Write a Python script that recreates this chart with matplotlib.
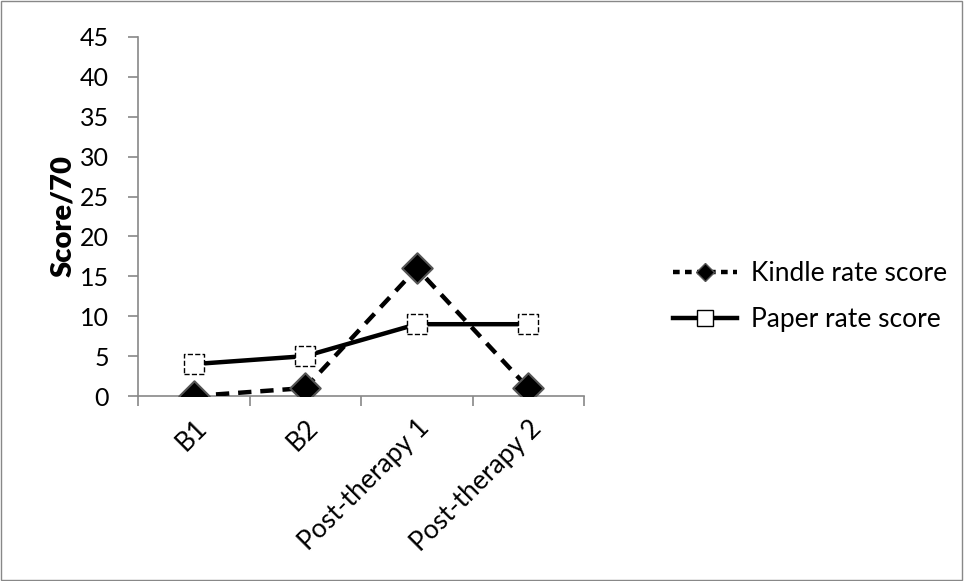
# Kindle vs paper rate scores
import matplotlib.pyplot as plt
from matplotlib.lines import Line2D
from matplotlib.patches import Rectangle

# data
sessions = ['B1', 'B2', 'Post-therapy 1', 'Post-therapy 2']
kindle = [0, 1, 16, 1]
paper = [4, 5, 9, 9]
yticks = [0, 5, 10, 15, 20, 25, 30, 35, 40, 45]

plt.rcParams['font.family'] = ['Lato', 'DejaVu Sans']

fig = plt.figure(figsize=(9.64, 5.81), dpi=100)
ax = fig.add_axes([0.1432, 0.3184, 0.4626, 0.618])

x = list(range(len(sessions)))

# kindle: dashed line, black diamonds
ax.plot(x, kindle, color='black', lw=3.2, ls=(0, (3, 2)), zorder=3)
ax.scatter(x, kindle, marker='D', s=240, facecolor='black',
           edgecolor='#555555', linewidths=1.5, zorder=5)

# paper: solid line, white squares with dashed edge
ax.plot(x, paper, color='black', lw=3.2, zorder=3)
ax.scatter(x, paper, marker='s', s=200, facecolor='white',
           edgecolor='black', linewidths=1.0, linestyle='--', zorder=4)

ax.set_xlim(-0.5, 3.5)
ax.set_ylim(0, 45)
ax.set_yticks(yticks)
ax.set_xticks([i - 0.5 for i in range(5)], minor=False)
ax.set_xticklabels([])
ax.set_xticks(x, minor=True)
ax.set_xticklabels(sessions, minor=True, rotation=45, ha='right',
                   rotation_mode='anchor', fontsize=19)
ax.tick_params(axis='x', which='minor', length=0, pad=14)
ax.tick_params(axis='x', which='major', length=7, width=1.2, color='#888888', direction='out')
ax.tick_params(axis='y', length=7, width=1.2, color='#888888', labelsize=18, pad=14)

for s in ['top', 'right']:
    ax.spines[s].set_visible(False)
for s in ['left', 'bottom']:
    ax.spines[s].set_color('#888888')
    ax.spines[s].set_linewidth(1.2)

ax.set_ylabel('Score/70', fontsize=21, fontweight='heavy', labelpad=3)

handles = [
    Line2D([], [], color='black', lw=3.2, ls=(0, (1.5, 1.2)), marker='D',
           markersize=9, markerfacecolor='black', markeredgecolor='#555555'),
    Line2D([], [], color='black', lw=3.2, marker='s', markersize=11,
           markerfacecolor='white', markeredgecolor='black', markeredgewidth=1),
]
fig.legend(handles, ['Kindle rate score', 'Paper rate score'],
           loc='center left', bbox_to_anchor=(0.674, 0.49), frameon=False,
           fontsize=19, handlelength=2.4, handletextpad=0.55, labelspacing=0.8)

# outer border
fig.add_artist(Rectangle((0.001, 0.002), 0.997, 0.996, transform=fig.transFigure,
                         fill=False, edgecolor='#888888', lw=1))

fig.savefig('out.png', dpi=100)
